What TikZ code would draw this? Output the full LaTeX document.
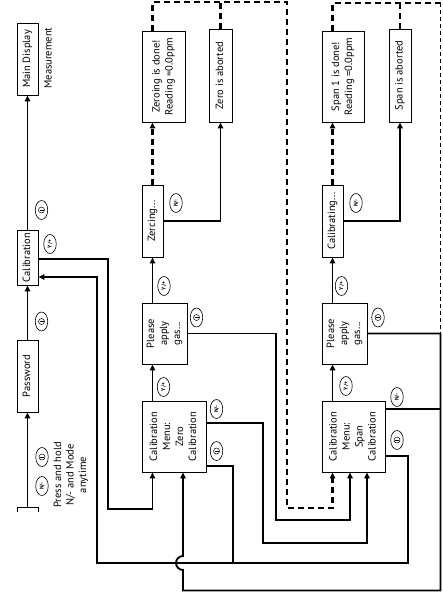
\documentclass[tikz,border=0pt]{standalone}
\usepackage{fontspec}
\setmainfont{PT Sans}
\usepackage{graphicx}
\usetikzlibrary{arrows.meta,shapes.geometric}

\newcommand{\vtext}[1]{\rotatebox{90}{\begin{tabular}{@{}c@{}}#1\end{tabular}}}

\begin{document}
\begin{tikzpicture}[x=1pt, y=-1pt,
    box/.style={draw, line width=0.9pt, inner sep=0pt, font=\fontsize{10.5}{13}\selectfont},
    key/.style={draw, ellipse, rotate=90, line width=0.6pt, inner sep=0pt,
                minimum width=19pt, minimum height=12.5pt, font=\fontsize{5.5}{6}\selectfont\bfseries},
    modekey/.style={draw, ellipse, line width=0.6pt, inner sep=0pt,
                minimum width=12.5pt, minimum height=19pt,
                path picture={
                  \draw[line width=0.5pt] (path picture bounding box.center) circle (3pt);
                  \draw[line width=0.6pt] ([xshift=-2pt]path picture bounding box.center)
                    -- ([xshift=2pt]path picture bounding box.center);}},
    note/.style={font=\fontsize{10.5}{12.5}\selectfont, align=center, rotate=90},
    wire/.style={line width=1.9pt},
    flow/.style={wire, -{Triangle[length=6pt,width=5.5pt]}},
    dwire/.style={line width=2.1pt, dash pattern=on 6pt off 4pt},
    dflow/.style={dwire, -{Triangle[length=6pt,width=5.5pt]}},
  ]
  \useasboundingbox (0,0) rectangle (442,592);
  % entry column
  \node[box, minimum width=21pt, minimum height=72pt] (disp) at (27.5,59) {\vtext{Main Display}};
  \node[note] (meas) at (48,58) {Measurement};
  \node[box, minimum width=21pt, minimum height=55pt] (calib) at (27.5,257.5) {\vtext{Calibration}};
  \node[box, minimum width=21pt, minimum height=72pt] (pwd) at (27.5,376) {\vtext{Password}};
  \coordinate (start) at (27.5,507);
  \draw[line width=0.9pt] (17,512) -- (17,507) -- (38,507) -- (38,512);
  \node[note] (hold) at (71,475) {Press and hold\\N/- and Mode\\anytime};
  \node[modekey] (kdisp) at (41.5,210) {};
  \node[key] (kcal) at (50,244) {Y/+};
  \node[modekey] (kpwd) at (41.5,321.5) {};
  \node[modekey] (kholdm) at (42,457) {};
  \node[key] (kholdn) at (42,486) {N/-};

  % zero calibration
  \node[box, minimum width=64pt, minimum height=71pt] (zmenu) at (174,436.5) {\vtext{Calibration\\Menu:\\Zero\\Calibration}};
  \node[box, minimum width=45pt, minimum height=61pt] (zgas) at (164.5,333.5) {\vtext{Please\\apply\\gas...}};
  \node[box, minimum width=21pt, minimum height=72pt] (zing) at (152.5,221) {\vtext{Zercing...}};
  \node[box, minimum width=43pt, minimum height=91pt] (zdone) at (163.5,76.5) {\vtext{Zeroing is done!\\Reading =0.0ppm}};
  \node[box, minimum width=23pt, minimum height=93pt] (zabort) at (220.5,75.5) {\vtext{Zero is aborted}};
  \node[key] (kzmenu) at (163.5,387) {Y/+};
  \node[key] (kzgas) at (164,286) {Y/+};
  \node[modekey] (kzgasm) at (196.5,317.5) {};
  \node[key] (kzing) at (176,203) {N/-};
  \node[key] (kzmenun) at (216.5,409) {N/-};
  \node[modekey] (kzmenum) at (216.5,451) {};

  % span calibration
  \node[box, minimum width=63pt, minimum height=71pt] (smenu) at (353.5,436.5) {\vtext{Calibration\\Menu:\\Span\\Calibration}};
  \node[box, minimum width=45pt, minimum height=61pt] (sgas) at (344.5,333.5) {\vtext{Please\\apply\\gas...}};
  \node[box, minimum width=21pt, minimum height=72pt] (scal) at (332.5,221) {\vtext{Calibrating...}};
  \node[box, minimum width=42pt, minimum height=91pt] (sdone) at (343,76.5) {\vtext{Span 1 is done!\\Reading =0.0ppm}};
  \node[box, minimum width=22pt, minimum height=93pt] (sabort) at (400,75.5) {\vtext{Span is aborted}};
  \node[key] (ksmenu) at (346,386) {Y/+};
  \node[key] (ksgas) at (341.5,286) {Y/+};
  \node[modekey] (ksgasm) at (378,317.5) {};
  \node[key] (kscal) at (356,203) {N/-};
  \node[key] (ksmenun) at (397,397) {N/-};
  \node[modekey] (ksmenum) at (397,440) {};

  % turning points
  \coordinate (cdrop) at (108,509);
  \coordinate (zskip) at (263,543);
  \coordinate (zgasdrop) at (276,520);
  \coordinate (rjoin) at (233,563);
  \coordinate (rleft) at (97,563);
  \coordinate (rright) at (408,563);
  \coordinate (ztop) at (287,2);
  \coordinate (zturn) at (287,508);
  \coordinate (stop) at (440.5,3);
  \coordinate (sbot) at (440.5,590.5);
  \coordinate (zbot) at (183,590.5);

  % connectors
  \draw[flow] (start) -- (pwd.south);
  \draw[flow] (pwd.north) -- (calib.south);
  \draw[flow] (calib.north) -- (disp.south);
  \draw[flow] ([yshift=-1.5pt]calib.east) -| (cdrop) -| (zmenu.south -| zing);

  \draw[flow] (zmenu.north -| zing) -- (zgas.south -| zing);
  \draw[flow] (zgas.north -| zing) -- (zing.south);
  \draw[dflow] (zing.north) -- (zdone.south -| zing);
  \draw[flow] (zing.east) -| (zabort.south);

  \draw[flow] (smenu.north -| scal) -- (sgas.south -| scal);
  \draw[flow] (sgas.north -| scal) -- (scal.south);
  \draw[dflow] (scal.north) -- (sdone.south -| scal);
  \draw[flow] (scal.east) -| (sabort.south);

  \draw[dwire] (zabort.north) -- (zabort.north |- ztop);
  \draw[dflow] (zdone.north -| zing) |- (ztop) -- (zturn) -| (smenu.south -| scal);
  \draw[dwire] (sabort.north) -- (sabort.north |- stop);
  \draw[dwire] (sdone.north -| scal) |- (stop);
  \draw[line width=1pt, dash pattern=on 4pt off 3pt] (stop) -- (sgas.east -| stop);

  \draw[flow] ([yshift=13.5pt]zmenu.east) -| (zskip) -| ([xshift=13.5pt]smenu.south);
  \draw[flow] (zgas.east) -| (zgasdrop) -| ([xshift=-3.5pt]smenu.south);
  \draw[flow] ([yshift=-29.5pt]zmenu.east) -| (rjoin) -- (rleft) |- ([yshift=-19.5pt]calib.east);
  \draw[wire] ([yshift=-19.5pt]smenu.east) -| (rright) -- (rjoin);
  \draw[wire] ([yshift=27.5pt]smenu.east) -- ([yshift=27.5pt]smenu.east -| sbot);
  \draw[flow] (sgas.east) -- (sgas.east -| sbot) -- (sbot) -- (zbot) -- ++(0,-20.5)
    arc[start angle=-90, end angle=-270, radius=7pt] -- ([xshift=9pt]zmenu.south);
\end{tikzpicture}
\end{document}
